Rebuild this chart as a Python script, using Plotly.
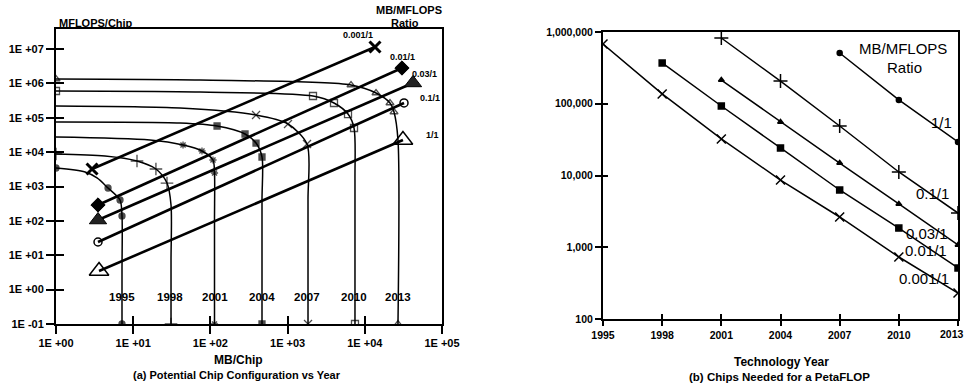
import plotly.graph_objects as go

W, H = 967, 388
FONT = "Liberation Sans, Arial, sans-serif"

# ---------------- Panel (a): Potential chip configuration vs year ----------------
year_labels = ["1995", "1998", "2001", "2004", "2007", "2010", "2013"]

mb_1995 = [1, 2.38, 3.40, 4.72, 6.75, 7.16, 7.16, 7.16]
mf_1995 = [3450, 2640, 1770, 904, 405, 139, 3.72, 0.1]
mk_1995 = [1, 0, 0, 1, 1, 1, 0, 1]

mb_1998 = [1, 4.31, 11.2, 19.7, 27.4, 30.9, 30.9, 30.9]
mf_1998 = [8820, 7710, 5520, 3230, 1260, 290, 7.28, 0.1]
mk_1998 = [1, 0, 1, 1, 1, 0, 0, 1]

mb_2001 = [1, 16.5, 44.2, 77.8, 108, 113, 113, 113]
mf_2001 = [27500, 22500, 16100, 10800, 5900, 2470, 106, 0.1]
mk_2001 = [0, 0, 1, 1, 1, 1, 0, 1]

mb_2004 = [1, 40.4, 122, 281, 390, 466, 466, 466]
mf_2004 = [75200, 70300, 57500, 33700, 18400, 7210, 405, 0.1]
mk_2004 = [0, 0, 1, 1, 1, 1, 0, 1]

mb_2007 = [1, 40.4, 390, 1012, 1784, 1838, 1838]
mf_2007 = [220000, 192000, 120000, 65800, 17200, 405, 0.1]
mk_2007 = [0, 0, 1, 1, 1, 0, 1]

mb_2010 = [1, 73.3, 2133, 3990, 6060, 7250, 7460, 7460]
mf_2010 = [600000, 561000, 429000, 269000, 128000, 50400, 1550, 0.1]
mk_2010 = [1, 0, 1, 1, 1, 1, 0, 1]

mb_2013 = [1, 73.3, 6630, 13970, 21200, 23900, 26900, 26900]
mf_2013 = [1340000, 1250000, 897000, 525000, 269000, 147000, 22500, 0.1]
mk_2013 = [1, 0, 1, 1, 1, 1, 0, 1]

ratio_labels = ["0.001/1", "0.01/1", "0.03/1", "0.1/1", "1/1"]
ratio_mb_start = [2.93, 3.50, 3.50, 3.50, 3.61]
ratio_mb_end = [13550, 30300, 42100, 32200, 31200]
ratio_mf_start = [3230, 290, 106, 24.3, 3.48]
ratio_mf_end = [11400000, 2800000, 1030000, 269000, 22500]

a_xtick_vals = [1, 10, 100, 1000, 10000, 100000]
a_xtick_text = ["1E +00", "1E +01", "1E +02", "1E +03", "1E +04", "1E +05"]
a_ytick_vals = [0.1, 1, 10, 100, 1000, 1e4, 1e5, 1e6, 1e7]
a_ytick_text = ["1E -01", "1E +00", "1E +01", "1E +02", "1E +03",
                "1E +04", "1E +05", "1E +06", "1E +07"]

# ---------------- Panel (b): Chips needed for a PetaFLOP ----------------
tech_years = [1995, 1998, 2001, 2004, 2007, 2010, 2013]
tech_year_text = ["1995", "1998", "2001", "2004", "2007", "2010", ""]  # last drawn as note
chips_0001 = [681000, 137000, 32300, 8650, 2640, 731, 230]
chips_001 = [None, 370000, 93000, 24200, 6280, 1850, 514]
chips_003 = [None, None, 214000, 55700, 14900, 4010, 1075]
chips_01 = [None, None, 825000, 207000, 49000, 11200, 3000]
chips_1 = [None, None, None, None, 510000, 113000, 29300]
b_ytick_vals = [100, 1000, 10000, 100000, 1000000]
b_ytick_text = ["100", "1,000", "10,000", "100,000", "1,000,000"]

# ---------------- figure ----------------
fig = go.Figure()

year_series = [
    (mb_1995, mf_1995, mk_1995, "circle", 6),
    (mb_1998, mf_1998, mk_1998, "cross-thin", 9),
    (mb_2001, mf_2001, mk_2001, "asterisk-open", 6),
    (mb_2004, mf_2004, mk_2004, "square", 6),
    (mb_2007, mf_2007, mk_2007, "x-thin", 8),
    (mb_2010, mf_2010, mk_2010, "square-open", 7),
    (mb_2013, mf_2013, mk_2013, "triangle-up-open", 7),
]
for (xs, ys, mk, sym, sz), name in zip(year_series, year_labels):
    fig.add_trace(go.Scatter(
        x=xs, y=ys, mode="lines+markers", name=name,
        line=dict(color="black", width=1.5, shape="spline", smoothing=0.8),
        marker=dict(symbol=sym, size=[sz * m for m in mk], color="black",
                    line=dict(color="black", width=1.3)),
        xaxis="x", yaxis="y", showlegend=False, hoverinfo="skip"))

ratio_symbols = ["x-thin", "diamond", "triangle-up", "circle-open", "triangle-up-open"]
ratio_sizes = [11, 11, 15, 8, 17]
ratio_lw = [3, 1, 1, 1.5, 1.5]
ratio_colors = ["black", "black", "#222222", "black", "black"]
for i, lab in enumerate(ratio_labels):
    fig.add_trace(go.Scatter(
        x=[ratio_mb_start[i], ratio_mb_end[i]], y=[ratio_mf_start[i], ratio_mf_end[i]],
        mode="lines+markers", name=lab,
        line=dict(color="black", width=2.6),
        marker=dict(symbol=ratio_symbols[i], size=ratio_sizes[i], color=ratio_colors[i],
                    line=dict(color="black", width=ratio_lw[i])),
        xaxis="x", yaxis="y", showlegend=False, hoverinfo="skip"))

b_series = [
    (chips_0001, "x-thin", 9),
    (chips_001, "square", 6),
    (chips_003, "triangle-up", 5),
    (chips_01, "cross-thin", 10),
    (chips_1, "circle", 5),
]
for (ys, sym, sz), lab in zip(b_series, ratio_labels):
    fig.add_trace(go.Scatter(
        x=tech_years, y=ys, mode="lines+markers", name=lab,
        line=dict(color="black", width=1.5),
        marker=dict(symbol=sym, size=sz, color="black", line=dict(color="black", width=1.5)),
        xaxis="x2", yaxis="y2", showlegend=False, hoverinfo="skip", connectgaps=False))

# empty traces so the overlay (inside-tick) axes are drawn
fig.add_trace(go.Scatter(x=[None], y=[None], xaxis="x3", yaxis="y3", showlegend=False,
                         hoverinfo="skip"))
fig.add_trace(go.Scatter(x=[None], y=[None], xaxis="x4", yaxis="y4", showlegend=False,
                         hoverinfo="skip"))


def px_dom(a, b, total):
    return [a / total, b / total]


a_xdom = px_dom(56, 442, W)
a_ydom = [1 - 324 / H, 1 - 29 / H]
b_xdom = px_dom(603, 958, W)
b_ydom = [1 - 319 / H, 1 - 32 / H]
a_xrange = [0, 5]
a_yrange = [-1, 7.582]
b_xrange = [1995, 2013]
b_yrange = [2, 6]

common = dict(showgrid=False, zeroline=False, color="black", automargin=False)
boldtick = dict(family=FONT, size=11, color="black", weight="bold")
boldtick_b = dict(family=FONT, size=10.5, color="black", weight="bold")
INC = "black"

fig.update_layout(
    width=W, height=H, margin=dict(l=0, r=0, t=0, b=0, autoexpand=False),
    paper_bgcolor="white", plot_bgcolor="white",
    font=dict(family=FONT, color="black"),
    xaxis=dict(domain=a_xdom, type="log", range=a_xrange, anchor="y",
               tickvals=a_xtick_vals, ticktext=a_xtick_text, ticks="outside",
               ticklen=8, tickwidth=2, tickcolor="black", showline=True, linewidth=2,
               linecolor="black", mirror=True, tickfont=boldtick, **common),
    yaxis=dict(domain=a_ydom, type="log", range=a_yrange, anchor="x",
               tickvals=a_ytick_vals, ticktext=a_ytick_text, ticks="outside",
               ticklen=8, tickwidth=2, tickcolor="black", showline=True, linewidth=2,
               linecolor="black", mirror=True, tickfont=boldtick, **common),
    xaxis3=dict(overlaying="x", anchor="y3", type="log", range=a_xrange,
                tickvals=a_xtick_vals, ticks="inside", ticklen=8, tickwidth=2,
                tickcolor=INC, showticklabels=False, showline=False, **common),
    yaxis3=dict(overlaying="y", anchor="x3", type="log", range=a_yrange,
                tickvals=a_ytick_vals, ticks="inside", ticklen=8, tickwidth=2,
                tickcolor=INC, showticklabels=False, showline=False, **common),
    xaxis2=dict(domain=b_xdom, range=b_xrange, anchor="y2",
                tickvals=tech_years, ticktext=tech_year_text, ticks="outside", ticklen=5,
                tickwidth=2, tickcolor="black", showline=True, linewidth=2,
                linecolor="black", mirror=True, tickfont=boldtick_b, **common),
    yaxis2=dict(domain=b_ydom, type="log", range=b_yrange, anchor="x2",
                tickvals=b_ytick_vals, ticktext=b_ytick_text, ticks="outside", ticklen=6,
                tickwidth=2, tickcolor="black", showline=True, linewidth=2,
                linecolor="black", mirror=True, tickfont=boldtick_b, **common),
    xaxis4=dict(overlaying="x2", anchor="y4", range=b_xrange, tickvals=tech_years,
                ticks="inside", ticklen=5, tickwidth=2, tickcolor=INC,
                showticklabels=False, showline=False, **common),
    yaxis4=dict(overlaying="y2", anchor="x4", type="log", range=b_yrange,
                tickvals=b_ytick_vals, ticks="inside", ticklen=5, tickwidth=2,
                tickcolor=INC, showticklabels=False, showline=False, **common),
)


def ann(text, px, py, size, bold=True, xanchor="center"):
    return dict(text=("<b>%s</b>" % text) if bold else text,
                x=px / W, y=1 - py / H, xref="paper", yref="paper",
                showarrow=False, xanchor=xanchor, yanchor="middle",
                font=dict(family=FONT, size=size, color="black"))


annotations = [
    ann("MFLOPS/Chip", 96, 23, 11),
    ann("MB/MFLOPS", 409, 10, 11),
    ann("Ratio", 405, 23, 11),
    ann("MB/Chip", 238, 360, 12),
    ann("(a) Potential Chip Configuration vs Year", 237, 375, 11),
    ann("Technology Year", 781, 362, 12),
    ann("(b) Chips Needed for a PetaFLOP", 779, 377, 11.5),
    ann("MB/MFLOPS", 903, 48, 15, bold=False),
    ann("Ratio", 904, 67, 15, bold=False),
    ann(str(tech_years[-1]), 966, 334, 10.5, xanchor="right"),
]
a_ratio_pos = [(358, 35), (402, 57), (424, 74), (430, 98), (432, 135)]
for lab, (px, py) in zip(ratio_labels, a_ratio_pos):
    annotations.append(ann(lab, px, py, 9))
a_year_pos = [122, 170, 215, 262, 307, 354, 398]
for lab, px in zip(year_labels, a_year_pos):
    annotations.append(ann(lab, px, 297, 11.5))
b_ratio_pos = [(924, 278), (926, 250), (927, 233), (932, 193), (941, 122)]
for lab, (px, py) in zip(ratio_labels, b_ratio_pos):
    annotations.append(ann(lab, px, py, 15, bold=False))
fig.update_layout(annotations=annotations)

fig.write_html("out.html")
